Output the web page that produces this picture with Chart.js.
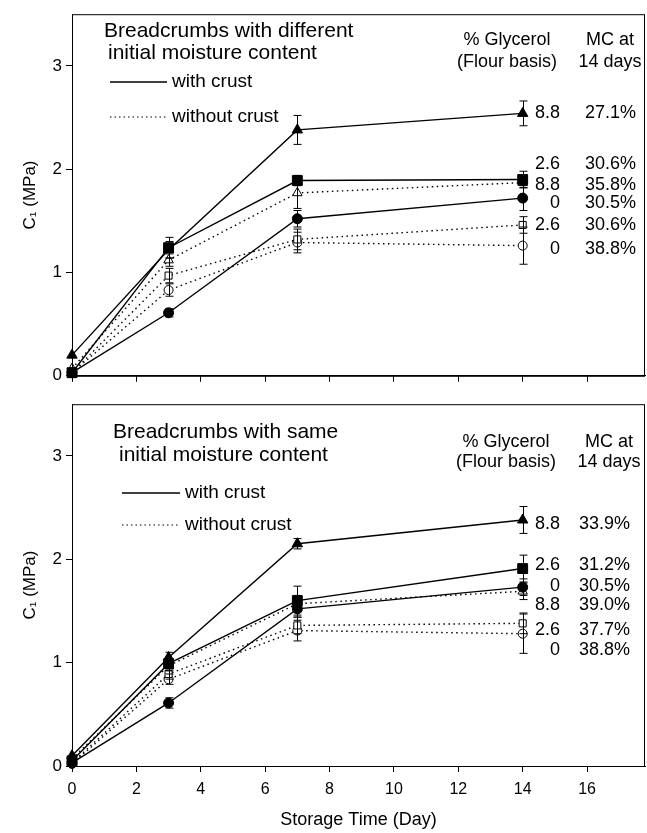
<!DOCTYPE html>
<html>
<head>
<meta charset="utf-8">
<script src="https://cdn.jsdelivr.net/npm/chart.js@4.4.0/dist/chart.umd.min.js"></script>
<style>
body { margin: 0; background: #fff; }
#wrap { position: relative; width: 647px; height: 833px; }
.panel { position: absolute; left: 0; width: 647px; }
</style>
</head>
<body>
<div id="wrap">
  <div class="panel" style="top:0;height:390px"><canvas id="topChart" width="647" height="390"></canvas></div>
  <div class="panel" style="top:390px;height:443px"><canvas id="bottomChart" width="647" height="443"></canvas></div>
</div>
<script>
// storage days
var days = [0, 3, 7, 14];
var xTicks = [0, 2, 4, 6, 8, 10, 12, 14, 16];
var yTicks = [0, 1, 2, 3];

// panel A: different initial moisture content (C1, MPa)
var aCrust88 = [0.20, 1.22, 2.38, 2.54];
var aCrust88Err = [0, 0.08, 0.14, 0.12];
var aCrust26 = [0.03, 1.24, 1.89, 1.90];
var aCrust26Err = [0, 0.10, 0.05, 0.08];
var aCrust0 = [0.03, 0.61, 1.52, 1.72];
var aCrust0Err = [0, 0.04, 0.08, 0.12];
var aNo88 = [0.07, 1.12, 1.77, 1.87];
var aNo88Err = [0, 0.06, 0.15, 0.05];
var aNo26 = [0.03, 0.97, 1.32, 1.46];
var aNo26Err = [0, 0.07, 0.10, 0.08];
var aNo0 = [0.03, 0.83, 1.29, 1.26];
var aNo0Err = [0, 0.06, 0.10, 0.18];

// panel B: same initial moisture content
var bCrust88 = [0.10, 1.05, 2.15, 2.38];
var bCrust88Err = [0, 0.05, 0.05, 0.13];
var bCrust26 = [0.05, 0.99, 1.60, 1.91];
var bCrust26Err = [0, 0.05, 0.14, 0.13];
var bCrust0 = [0.03, 0.61, 1.52, 1.73];
var bCrust0Err = [0, 0.05, 0.08, 0.08];
var bNo88 = [0.07, 0.97, 1.57, 1.69];
var bNo88Err = [0, 0.05, 0.08, 0.08];
var bNo26 = [0.03, 0.89, 1.36, 1.38];
var bNo26Err = [0, 0.05, 0.08, 0.10];
var bNo0 = [0.02, 0.84, 1.31, 1.28];
var bNo0Err = [0, 0.05, 0.10, 0.19];

// right-hand labels
var aGlycerol = ["8.8", "2.6", "8.8", "0", "2.6", "0"];
var aMC = ["27.1%", "30.6%", "35.8%", "30.5%", "30.6%", "38.8%"];
var bGlycerol = ["8.8", "2.6", "0", "8.8", "2.6", "0"];
var bMC = ["33.9%", "31.2%", "30.5%", "39.0%", "37.7%", "38.8%"];

// where the label rows sit (in MPa, so they follow the y scale)
var aRowPos = [2.54, 2.05, 1.85, 1.67, 1.46, 1.23];
var bRowPos = [2.34, 1.94, 1.74, 1.56, 1.32, 1.12];

var FONT = "'Liberation Sans', Arial, sans-serif";

// turn a values array into {x, y} points on the day axis
var toPoints = function(vals) {
  return days.map(function(d, i) { return { x: d, y: vals[i] }; });
};

// one series: filled marker + solid line, or open marker + dotted line
var series = function(vals, errs, shape, filled) {
  var radius = { triangle: filled ? 6 : 5.5, rect: filled ? 7 : 5, circle: filled ? 5 : 4.5 }[shape];
  return {
    data: toPoints(vals),
    errs: errs,
    showLine: true,
    clip: false,
    borderColor: '#000',
    borderWidth: 1.4,
    borderDash: filled ? [] : [1.5, 3.5],
    pointStyle: shape,
    pointRadius: radius,
    pointHoverRadius: radius,
    pointBackgroundColor: filled ? '#000' : '#fff',
    pointBorderColor: '#000',
    pointBorderWidth: 1
  };
};

// error bars, drawn through the chart's own scales
var errorBars = {
  id: 'errorBars',
  afterDatasetsDraw: function(chart) {
    var ctx = chart.ctx, xs = chart.scales.x, ys = chart.scales.y;
    ctx.save();
    ctx.strokeStyle = '#000';
    ctx.lineWidth = 1;
    chart.data.datasets.forEach(function(ds) {
      ds.data.forEach(function(p, i) {
        var e = ds.errs[i];
        if (!e) return;
        var px = Math.round(xs.getPixelForValue(p.x)) + 0.5;
        var y1 = ys.getPixelForValue(p.y + e), y2 = ys.getPixelForValue(p.y - e);
        ctx.beginPath();
        ctx.moveTo(px, y1); ctx.lineTo(px, y2);
        ctx.moveTo(px - 4, y1); ctx.lineTo(px + 4, y1);
        ctx.moveTo(px - 4, y2); ctx.lineTo(px + 4, y2);
        ctx.stroke();
      });
    });
    ctx.restore();
  }
};

// frame, panel title, line legend and right-hand text columns
var notes = {
  id: 'notes',
  afterDraw: function(chart, args, o) {
    var ctx = chart.ctx, ca = chart.chartArea, ys = chart.scales.y;
    ctx.save();
    ctx.strokeStyle = '#000';
    ctx.lineWidth = 1;
    ctx.strokeRect(ca.left + 0.5, ca.top + 0.5, ca.right - ca.left - 1, ca.bottom - ca.top);

    ctx.fillStyle = '#000';
    ctx.textBaseline = 'middle';

    ctx.font = '21px ' + FONT;
    ctx.textAlign = 'left';
    ctx.fillText(o.title[0], o.titleX[0], o.titleY[0]);
    ctx.fillText(o.title[1], o.titleX[1], o.titleY[1]);

    // legend
    ctx.font = '19px ' + FONT;
    ctx.lineWidth = 1.4;
    ctx.beginPath();
    ctx.moveTo(o.legX[0], o.legY[0]); ctx.lineTo(o.legX[1], o.legY[0]);
    ctx.stroke();
    ctx.setLineDash([1.5, 3]);
    ctx.lineWidth = 1.2;
    ctx.beginPath();
    ctx.moveTo(o.legX[0], o.legY[1]); ctx.lineTo(o.legX[1], o.legY[1]);
    ctx.stroke();
    ctx.setLineDash([]);
    ctx.fillText('with crust', o.legX[1] + 5, o.legY[0]);
    ctx.fillText('without crust', o.legX[1] + 5, o.legY[1]);

    // column headers
    ctx.font = '18px ' + FONT;
    ctx.textAlign = 'center';
    ctx.fillText('% Glycerol', o.headX[0], o.headY[0]);
    ctx.fillText('(Flour basis)', o.headX[0], o.headY[1]);
    ctx.fillText('MC at', o.headX[1], o.headY[0]);
    ctx.fillText('14 days', o.headX[1], o.headY[1]);

    // rows
    ctx.textAlign = 'right';
    o.glycerol.forEach(function(t, i) {
      var py = ys.getPixelForValue(o.rows[i]);
      ctx.fillText(t, o.colX[0], py);
      ctx.fillText(o.mc[i], o.colX[1], py);
    });
    ctx.restore();
  }
};

var makeChart = function(id, sets, opts) {
  var ctx = document.getElementById(id).getContext('2d');
  return new Chart(ctx, {
    type: 'scatter',
    data: { datasets: sets },
    plugins: [errorBars, notes],
    options: {
      responsive: false,
      animation: false,
      layout: { autoPadding: false, padding: { top: opts.padTop, right: 2, left: 0, bottom: 0 } },
      plugins: {
        legend: { display: false },
        tooltip: { enabled: false },
        notes: opts.notes
      },
      scales: {
        x: {
          type: 'linear',
          min: 0,
          max: 17.8,
          afterFit: function(s) { s.height = opts.xHeight; s.paddingLeft = 0; s.paddingRight = 0; },
          afterBuildTicks: function(s) { s.ticks = xTicks.map(function(v) { return { value: v }; }); },
          ticks: {
            display: opts.showX,
            color: '#000',
            padding: 8,
            font: { family: FONT, size: 16 }
          },
          grid: { drawOnChartArea: false, tickLength: 6, color: '#000' },
          border: { color: '#000', width: 1 },
          title: {
            display: opts.showX,
            text: 'Storage Time (Day)',
            color: '#000',
            padding: { top: 0, bottom: 2 },
            font: { family: FONT, size: 18 }
          }
        },
        y: {
          min: 0,
          max: 3.5,
          afterFit: function(s) { s.width = 72; },
          afterBuildTicks: function(s) { s.ticks = yTicks.map(function(v) { return { value: v }; }); },
          ticks: { color: '#000', padding: 4, font: { family: FONT, size: 17 } },
          grid: { drawOnChartArea: false, tickLength: 6, color: '#000' },
          border: { color: '#000', width: 1 },
          title: {
            display: true,
            text: 'C\u2081 (MPa)',
            color: '#000',
            padding: { top: 20, bottom: 0 },
            font: { family: FONT, size: 17 }
          }
        }
      }
    }
  });
};

makeChart('topChart', [
  series(aCrust88, aCrust88Err, 'triangle', true),
  series(aCrust26, aCrust26Err, 'rect', true),
  series(aCrust0, aCrust0Err, 'circle', true),
  series(aNo88, aNo88Err, 'triangle', false),
  series(aNo26, aNo26Err, 'rect', false),
  series(aNo0, aNo0Err, 'circle', false)
], {
  padTop: 10,
  xHeight: 14,
  showX: false,
  notes: {
    title: ['Breadcrumbs with different', 'initial moisture content'],
    titleX: [104, 108], titleY: [31, 53],
    legX: [110, 167], legY: [82, 117],
    headX: [507, 610], headY: [40, 62],
    colX: [560, 636],
    glycerol: aGlycerol, mc: aMC, rows: aRowPos
  }
});

makeChart('bottomChart', [
  series(bCrust88, bCrust88Err, 'triangle', true),
  series(bCrust26, bCrust26Err, 'rect', true),
  series(bCrust0, bCrust0Err, 'circle', true),
  series(bNo88, bNo88Err, 'triangle', false),
  series(bNo26, bNo26Err, 'rect', false),
  series(bNo0, bNo0Err, 'circle', false)
], {
  padTop: 12,
  xHeight: 67,
  showX: true,
  notes: {
    title: ['Breadcrumbs with same', 'initial moisture content'],
    titleX: [113, 119], titleY: [42, 65],
    legX: [122, 180], legY: [103, 135],
    headX: [506, 609], headY: [52, 72],
    colX: [560, 630],
    glycerol: bGlycerol, mc: bMC, rows: bRowPos
  }
});
</script>
</body>
</html>
